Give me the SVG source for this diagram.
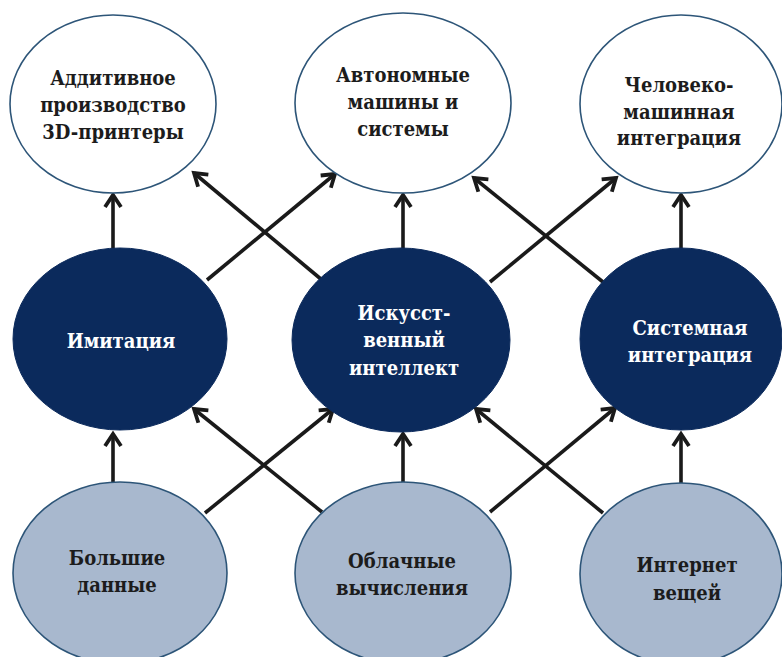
<svg xmlns="http://www.w3.org/2000/svg" width="782" height="657" viewBox="0 0 782 657">
<style>
.top{fill:#ffffff;stroke:#2d5578;stroke-width:1.6}
.mid{fill:#0b2a5c;stroke:#0b2a5c;stroke-width:1}
.bot{fill:#a8b8ce;stroke:#2d5578;stroke-width:1.6}
.t{font-family:'DejaVu Serif','Liberation Serif',serif;font-weight:700;font-stretch:condensed;font-size:20px;text-anchor:middle}
.dk{fill:#1c1c1c}
.wt{fill:#ffffff}
.c line{stroke:#1a1a1a;stroke-width:3.6;marker-end:url(#ah)}
</style>
<defs>
<marker id="ah" markerUnits="userSpaceOnUse" markerWidth="22" markerHeight="22" refX="15" refY="9" orient="auto" viewBox="0 0 22 18">
<path d="M3,1 L15,9 L3,17" fill="none" stroke="#1a1a1a" stroke-width="3.8" stroke-linecap="butt"/>
</marker>
</defs>
<rect width="782" height="657" fill="#ffffff"/>
<g class="c" id="connectors">
<line x1="113" y1="249" x2="113" y2="195"/>
<line x1="403" y1="249" x2="403" y2="195"/>
<line x1="681" y1="249" x2="681" y2="195"/>
<line x1="207" y1="280" x2="335" y2="174"/>
<line x1="322" y1="280" x2="194" y2="173"/>
<line x1="490" y1="282" x2="616" y2="178"/>
<line x1="603" y1="282" x2="474" y2="178"/>
<line x1="113" y1="483" x2="113" y2="434"/>
<line x1="403" y1="483" x2="403" y2="434"/>
<line x1="681" y1="483" x2="681" y2="434"/>
<line x1="205" y1="513" x2="333" y2="409"/>
<line x1="322" y1="512" x2="194" y2="409"/>
<line x1="490" y1="512" x2="615" y2="408"/>
<line x1="603" y1="513" x2="476" y2="409"/>
</g>
<g id="n-additive">
<ellipse class="top" cx="113" cy="104" rx="103" ry="89"/>
<text class="t dk" x="113" y="85">Аддитивное</text>
<text class="t dk" x="113" y="112">производство</text>
<text class="t dk" x="113" y="139">3D-принтеры</text>
</g>
<g id="n-autonomous">
<ellipse class="top" cx="403" cy="103" rx="108" ry="90"/>
<text class="t dk" x="403" y="82">Автономные</text>
<text class="t dk" x="403" y="109">машины и</text>
<text class="t dk" x="403" y="136">системы</text>
</g>
<g id="n-hmi">
<ellipse class="top" cx="681" cy="104" rx="101" ry="89"/>
<text class="t dk" x="679" y="92">Человеко-</text>
<text class="t dk" x="679" y="119">машинная</text>
<text class="t dk" x="679" y="145">интеграция</text>
</g>
<g id="n-imitation">
<ellipse class="mid" cx="120" cy="339" rx="107" ry="91"/>
<text class="t wt" x="121" y="348">Имитация</text>
</g>
<g id="n-ai">
<ellipse class="mid" cx="401" cy="340" rx="109" ry="92"/>
<text class="t wt" x="404" y="320">Искусст-</text>
<text class="t wt" x="404" y="347">венный</text>
<text class="t wt" x="404" y="375">интеллект</text>
</g>
<g id="n-sysint">
<ellipse class="mid" cx="681" cy="339" rx="101" ry="91"/>
<text class="t wt" x="690" y="335">Системная</text>
<text class="t wt" x="690" y="362">интеграция</text>
</g>
<g id="n-bigdata">
<ellipse class="bot" cx="120" cy="573" rx="107" ry="91"/>
<text class="t dk" x="117" y="565">Большие</text>
<text class="t dk" x="117" y="592">данные</text>
</g>
<g id="n-cloud">
<ellipse class="bot" cx="403" cy="573" rx="108" ry="91"/>
<text class="t dk" x="402" y="568">Облачные</text>
<text class="t dk" x="402" y="595">вычисления</text>
</g>
<g id="n-iot">
<ellipse class="bot" cx="681" cy="574" rx="101" ry="91"/>
<text class="t dk" x="687" y="572">Интернет</text>
<text class="t dk" x="687" y="600">вещей</text>
</g>
</svg>
